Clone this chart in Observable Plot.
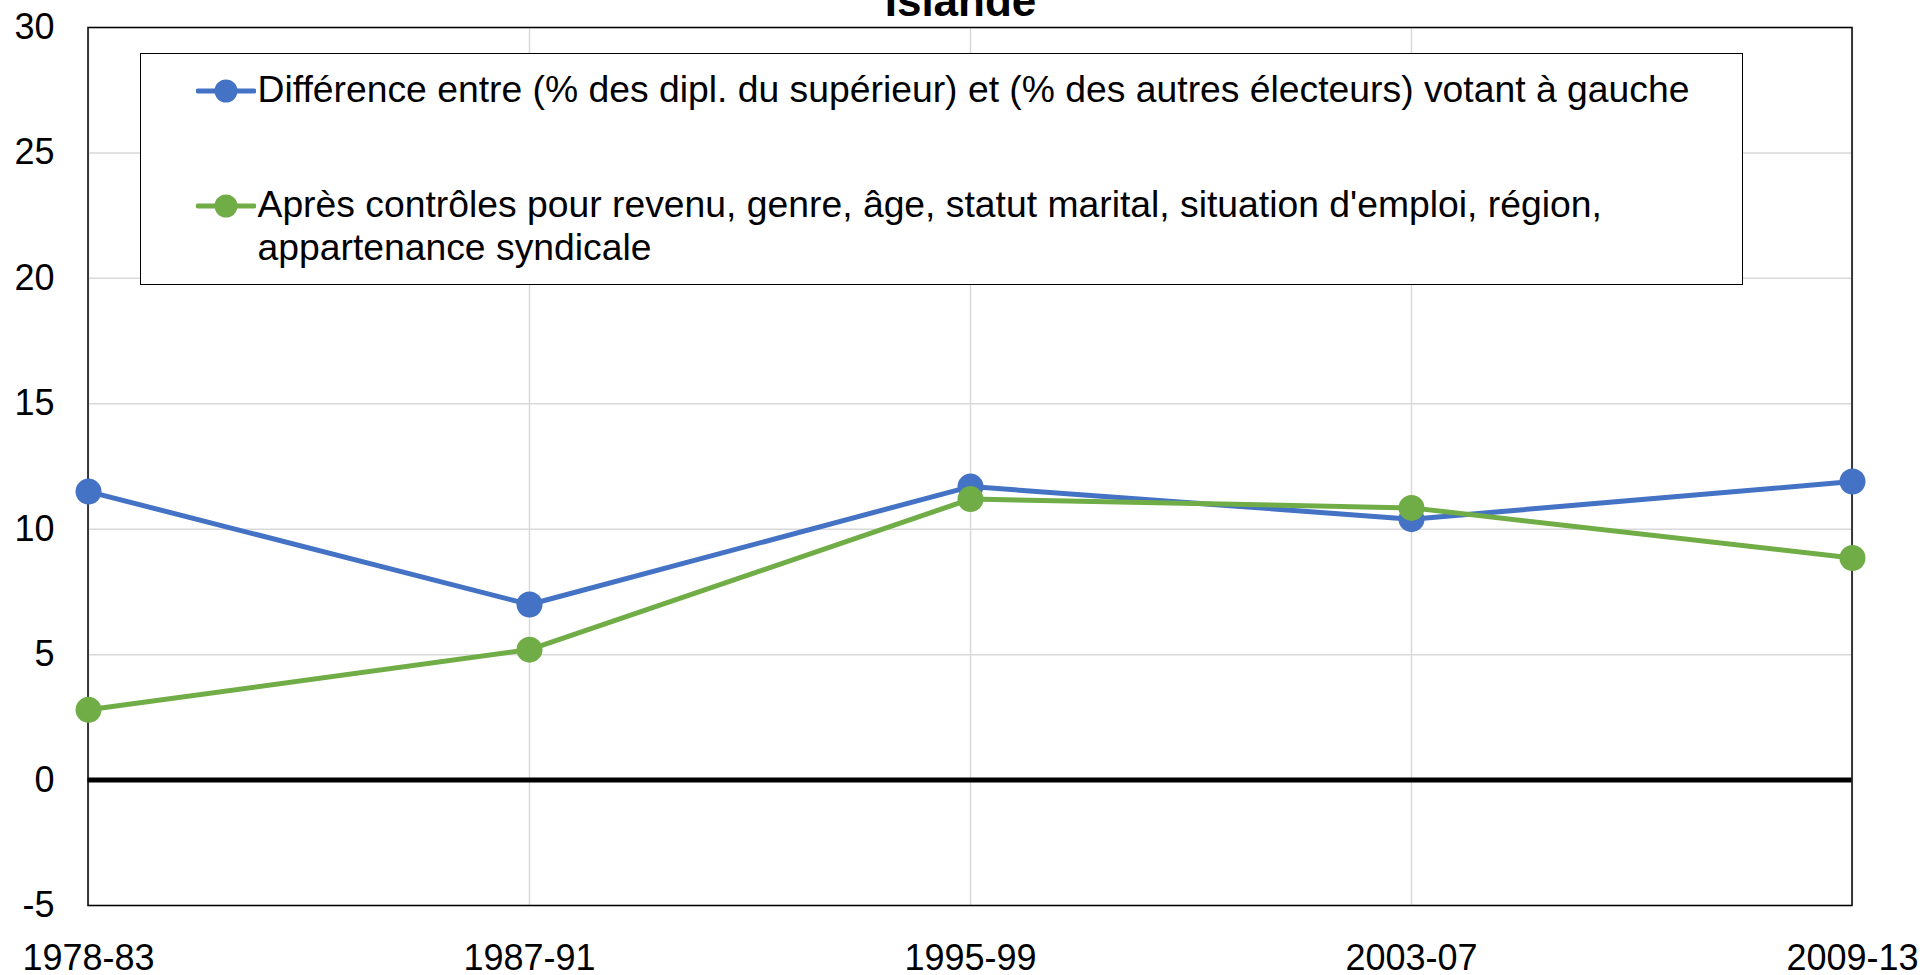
<!DOCTYPE html>
<html>
<head>
<meta charset="utf-8">
<script src="https://cdn.jsdelivr.net/npm/d3@7"></script>
<script src="https://cdn.jsdelivr.net/npm/@observablehq/plot@0.6"></script>
<style>
  html, body { margin: 0; padding: 0; background: white; overflow: hidden; }
  #wrap { position: relative; width: 1925px; height: 975px; font-family: "Liberation Sans", Arial, sans-serif; }
  #legend { position: absolute; left: 139.5px; top: 52.5px; width: 1603px; height: 232px;
            border: 1.5px solid black; background: white; box-sizing: border-box; }
  .ltext { position: absolute; left: 117px; font-size: 37.3px; line-height: 43px; color: black; white-space: nowrap; }
  .lmark { position: absolute; left: 55px; }
</style>
</head>
<body>
<div id="wrap"></div>
<script>
const title = "Islande";
const periods = ["1978-83", "1987-91", "1995-99", "2003-07", "2009-13"];
const seriesNames = [
  "Différence entre (% des dipl. du supérieur) et (% des autres électeurs) votant à gauche",
  "Après contrôles pour revenu, genre, âge, statut marital, situation d'emploi, région,\nappartenance syndicale"
];
const diffBrute = [11.5, 7.0, 11.7, 10.4, 11.9];
const diffControle = [2.8, 5.2, 11.2, 10.85, 8.85];
const yTicks = [-5, 0, 5, 10, 15, 20, 25, 30];
const colors = ["#4472C4", "#70AD47"];

const data = [
  ...periods.map((p, i) => ({period: p, value: diffBrute[i], series: seriesNames[0]})),
  ...periods.map((p, i) => ({period: p, value: diffControle[i], series: seriesNames[1]}))
];

const chart = Plot.plot({
  width: 1925,
  height: 975,
  marginLeft: 87.5,
  marginRight: 73.5,
  marginTop: 27,
  marginBottom: 70,
  style: {fontFamily: "'Liberation Sans', Arial, sans-serif", fontSize: "36px", background: "white", color: "black", overflow: "visible"},
  x: {type: "point", domain: periods, padding: 0, label: null},
  y: {domain: [-5, 30], label: null},
  color: {domain: seriesNames, range: colors},
  marks: [
    Plot.gridX(periods, {stroke: "#d9d9d9", strokeOpacity: 1, strokeWidth: 1.5}),
    Plot.gridY(yTicks, {stroke: "#d9d9d9", strokeOpacity: 1, strokeWidth: 1.5}),
    Plot.frame({stroke: "black", strokeWidth: 1.5}),
    Plot.ruleY([0], {stroke: "black", strokeWidth: 5}),
    Plot.line(data, {x: "period", y: "value", z: "series", stroke: "series", strokeWidth: 5}),
    Plot.dot(data, {x: "period", y: "value", fill: "series", r: 13, stroke: null}),
    Plot.axisY(yTicks, {tickSize: 0, tickPadding: 33.5, fontSize: 36, tickFormat: d => String(d)}),
    Plot.axisX(periods, {tickSize: 0, tickPadding: 39, fontSize: 36}),
    Plot.text([title], {frameAnchor: "top", dx: -9.5, dy: -12, lineAnchor: "bottom", fontWeight: "bold", fontSize: 44})
  ]
});

const wrap = document.getElementById("wrap");
wrap.appendChild(chart);

// Legend overlay
const legend = document.createElement("div");
legend.id = "legend";
const itemTops = [14, 129];          // text box tops inside legend
const markerCy = [37.5, 152.5];      // marker centers inside legend
seriesNames.forEach((name, i) => {
  const svg = d3.create("svg").attr("class", "lmark").attr("width", 60).attr("height", 30)
    .style("top", (markerCy[i] - 15) + "px");
  svg.append("line").attr("x1", 2).attr("x2", 58).attr("y1", 15).attr("y2", 15)
    .attr("stroke", colors[i]).attr("stroke-width", 5).attr("stroke-linecap", "round");
  svg.append("circle").attr("cx", 30).attr("cy", 15).attr("r", 11.5).attr("fill", colors[i]);
  legend.appendChild(svg.node());
  const t = document.createElement("div");
  t.className = "ltext";
  t.style.top = itemTops[i] + "px";
  name.split("\n").forEach((line, k) => {
    const d = document.createElement("div");
    d.textContent = line;
    t.appendChild(d);
  });
  legend.appendChild(t);
});
wrap.appendChild(legend);
</script>
</body>
</html>
